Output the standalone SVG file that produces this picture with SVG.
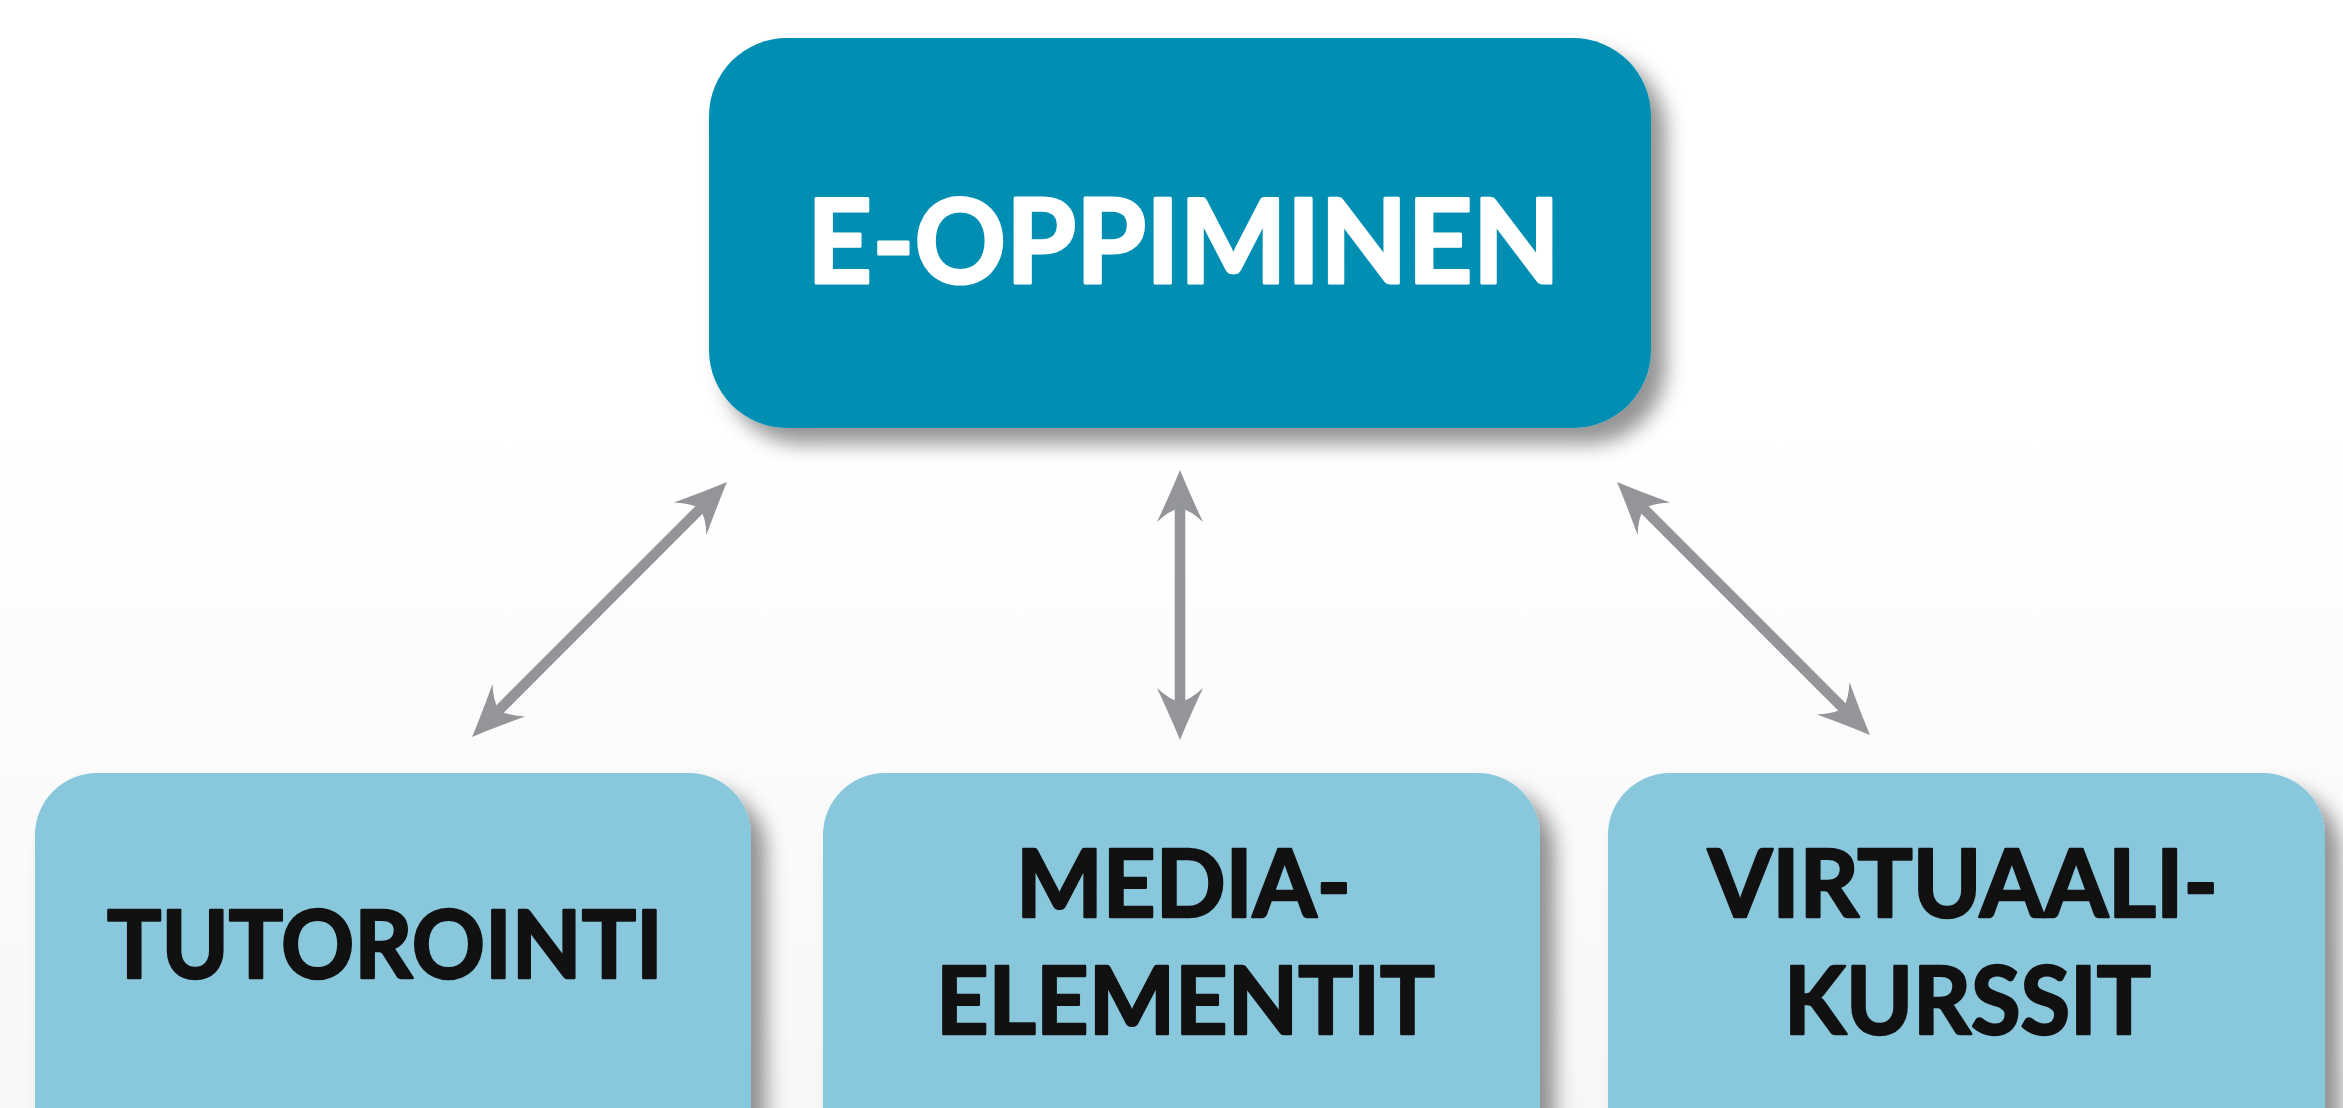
<svg xmlns="http://www.w3.org/2000/svg" width="2343" height="1108" viewBox="0 0 2343 1108">
  <defs>
    <linearGradient id="bg" x1="0" y1="0" x2="0" y2="1">
      <stop offset="0" stop-color="#ffffff"/>
      <stop offset="0.4" stop-color="#ffffff"/>
      <stop offset="1" stop-color="#f7f7f7"/>
    </linearGradient>
    <filter id="shadow" x="-10%" y="-10%" width="125%" height="135%">
      <feDropShadow dx="15" dy="16" stdDeviation="10" flood-color="#000" flood-opacity="0.42"/>
    </filter>
    <marker id="head" viewBox="-55 -26 60 52" refX="-38" refY="0" markerWidth="60" markerHeight="52" markerUnits="userSpaceOnUse" orient="auto-start-reverse">
      <path d="M0,0 Q-22,-9 -52,-23 Q-40,-10 -38,0 Q-40,10 -52,23 Q-22,9 0,0 Z" fill="#939598"/>
    </marker>
    <style>
      .top { fill: #028fb3; filter: url(#shadow); }
      .sub { fill: #89c7dc; filter: url(#shadow); }
      .t1 { font-family: Lato, "Open Sans", sans-serif; font-weight: bold; font-size: 117px; fill: #ffffff; stroke: #ffffff; stroke-width: 3; stroke-linejoin: round; }
      .t2 { font-family: Lato, "Open Sans", sans-serif; font-weight: bold; font-size: 94px; fill: #111112; stroke: #111112; stroke-width: 2.5; stroke-linejoin: round; }
      .conn { stroke: #939598; stroke-width: 10.5; fill: none; marker-start: url(#head); marker-end: url(#head); }
    </style>
  </defs>
  <rect x="0" y="0" width="2343" height="1108" fill="url(#bg)"/>

  <g id="connectors">
    <line class="conn" x1="498.9" y1="710.1" x2="700.1" y2="508.9"/>
    <line class="conn" x1="1180" y1="702" x2="1180" y2="508"/>
    <line class="conn" x1="1843.1" y1="708.1" x2="1643.9" y2="508.9"/>
  </g>

  <g id="node-eoppiminen">
    <rect class="top" x="709" y="38" width="942" height="390" rx="78" ry="78"/>
    <text class="t1" x="807" y="283" textLength="753" lengthAdjust="spacingAndGlyphs">E-OPPIMINEN</text>
  </g>

  <g id="node-tutorointi">
    <rect class="sub" x="35" y="773" width="716" height="400" rx="62" ry="62"/>
    <text class="t2" x="107" y="978" textLength="556" lengthAdjust="spacingAndGlyphs">TUTOROINTI</text>
  </g>

  <g id="node-mediaelementit">
    <rect class="sub" x="823" y="773" width="717" height="400" rx="62" ry="62"/>
    <text class="t2" x="1016" y="917" textLength="335" lengthAdjust="spacingAndGlyphs">MEDIA-</text>
    <text class="t2" x="936" y="1034" textLength="499" lengthAdjust="spacingAndGlyphs">ELEMENTIT</text>
  </g>

  <g id="node-virtuaalikurssit">
    <rect class="sub" x="1608" y="773" width="717" height="400" rx="62" ry="62"/>
    <text class="t2" x="1708" y="917" textLength="510" lengthAdjust="spacingAndGlyphs">VIRTUAALI-</text>
    <text class="t2" x="1784" y="1034" textLength="367" lengthAdjust="spacingAndGlyphs">KURSSIT</text>
  </g>
</svg>
